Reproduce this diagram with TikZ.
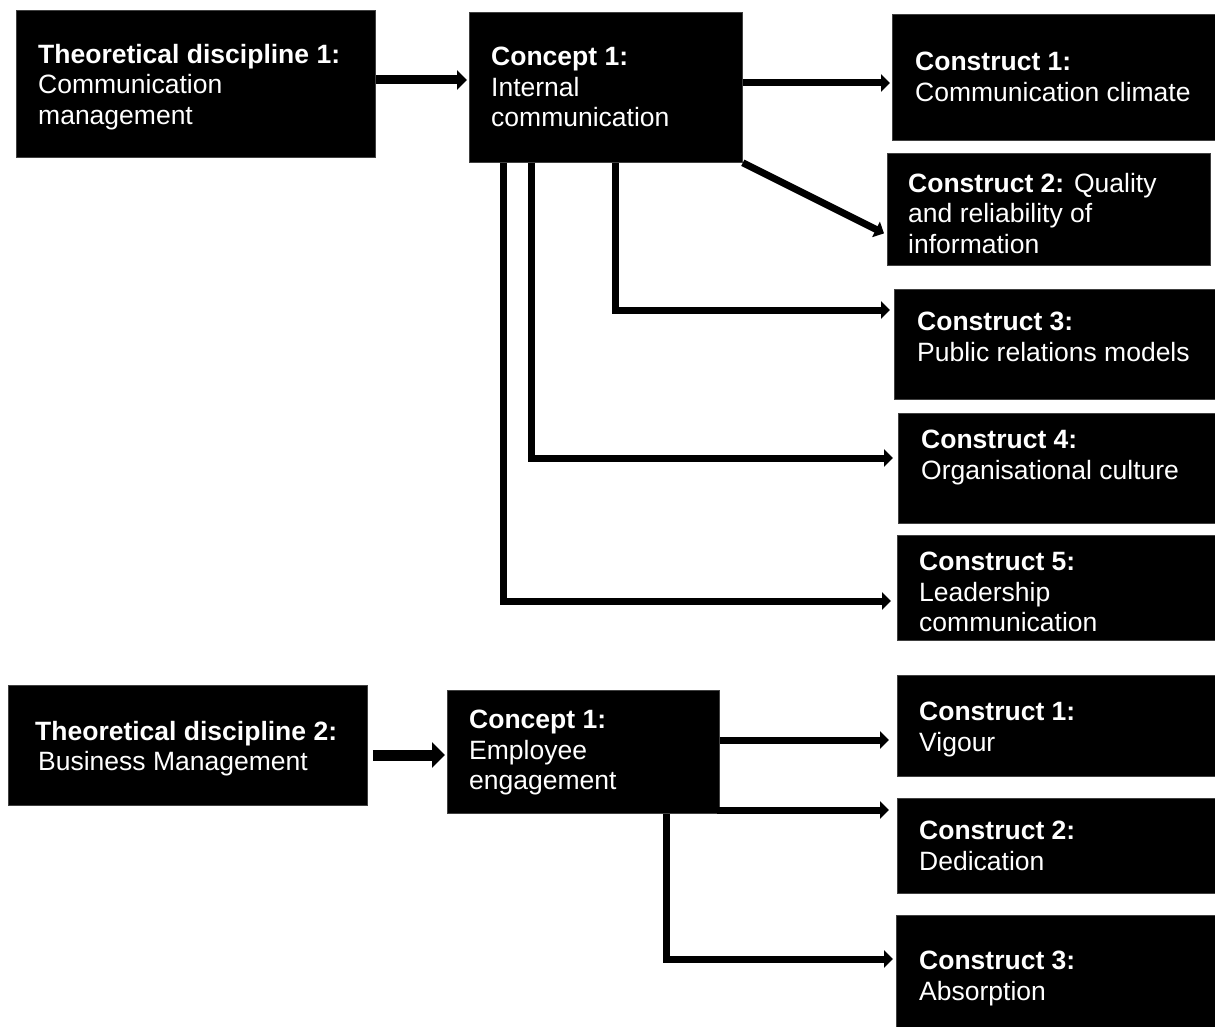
\documentclass[tikz,border=0pt]{standalone}
\usepackage{fontspec}
\setmainfont{Liberation Sans}
\usetikzlibrary{arrows.meta,calc}
\begin{document}
\begin{tikzpicture}[x=1pt,y=-1pt,
  box/.style={fill=black,draw=black!75,line width=0.8pt,anchor=north west,inner sep=0pt},
  txt/.style={text=white,anchor=north west,align=left,inner sep=0pt,
    font=\fontsize{26.5}{30.5}\selectfont},
  arr/.style={line width=7pt,line join=miter,-{Triangle[length=9pt,width=17pt]}},
  arrwide/.style={line width=9pt,-{Triangle[length=10pt,width=19pt]}},
  arrbold/.style={line width=11pt,-{Triangle[length=13pt,width=25pt]}}]
\useasboundingbox (0,0) rectangle (1215,1027);

% ---------- Discipline 1: communication management ----------
\node[box,minimum width=359pt,minimum height=147pt] (td1) at (16,10) {};
\node[txt] (td1t) at (38,44) {\textbf{Theoretical discipline 1:}\\Communication\\management};

\node[box,minimum width=273pt,minimum height=150pt] (c1) at (469,12) {};
\node[txt] (c1t) at (491,47) {\textbf{Concept 1:}\\Internal\\communication};

\node[box,minimum width=323pt,minimum height=126pt] (k1) at (892,14) {};
\node[txt] (k1t) at (915,52) {\textbf{Construct 1:}\\Communication climate};

\node[box,minimum width=323pt,minimum height=112pt] (k2) at (887,153) {};
\node[txt] (k2t) at (908,173) {\textbf{Construct 2:} Quality\\and reliability of\\information};

\node[box,minimum width=321pt,minimum height=110pt] (k3) at (894,289) {};
\node[txt] (k3t) at (917,312) {\textbf{Construct 3:}\\Public relations models};

\node[box,minimum width=317pt,minimum height=110pt] (k4) at (898,413) {};
\node[txt] (k4t) at (921,430) {\textbf{Construct 4:}\\Organisational culture};

\node[box,minimum width=318pt,minimum height=105pt] (k5) at (897,535) {};
\node[txt] (k5t) at (919,552) {\textbf{Construct 5:}\\Leadership\\communication};

\draw[arrwide,shorten >=2pt] (td1.east |- 0,80) -- (c1.west |- 0,80);
\draw[arr,shorten >=2pt] (c1.east |- 0,83) -- (k1.west |- 0,83);
\draw[arr] (c1.south east) -- ($(k2.west)+(-3,24)$);
\draw[arr,shorten >=4pt] (c1.south -| 615,0) |- (k3.west |- 0,310);
\draw[arr,shorten >=5pt] (c1.south -| 531,0) |- (k4.west |- 0,458);
\draw[arr,shorten >=6pt] (c1.south -| 503,0) |- (k5.west |- 0,601);

% ---------- Discipline 2: business management ----------
\node[box,minimum width=359pt,minimum height=120pt] (td2) at (8,685) {};
\node[txt] (td2t) at (35,721) {\textbf{Theoretical discipline 2:}\\\hspace*{3pt}Business Management};

\node[box,minimum width=272pt,minimum height=123pt] (c2) at (447,690) {};
\node[txt] (c2t) at (469,710) {\textbf{Concept 1:}\\Employee\\engagement};

\node[box,minimum width=318pt,minimum height=101pt] (v1) at (897,675) {};
\node[txt] (v1t) at (919,702) {\textbf{Construct 1:}\\Vigour};

\node[box,minimum width=318pt,minimum height=95pt] (v2) at (897,798) {};
\node[txt] (v2t) at (919,821) {\textbf{Construct 2:}\\Dedication};

\node[box,minimum width=319pt,minimum height=112pt] (v3) at (896,915) {};
\node[txt] (v3t) at (919,951) {\textbf{Construct 3:}\\Absorption};

\draw[arrbold,shorten <=5pt,shorten >=2pt] (td2.east |- 0,755) -- (c2.west |- 0,755);
\draw[arr,shorten >=8pt] (c2.east |- 0,740) -- (v1.west |- 0,740);
\draw[arr,shorten >=8pt] ($(c2.east |- 0,810)+(-3,0)$) -- (v2.west |- 0,810);
\draw[arr,shorten >=3pt] (c2.south -| 666,0) |- (v3.west |- 0,959);
\end{tikzpicture}
\end{document}
